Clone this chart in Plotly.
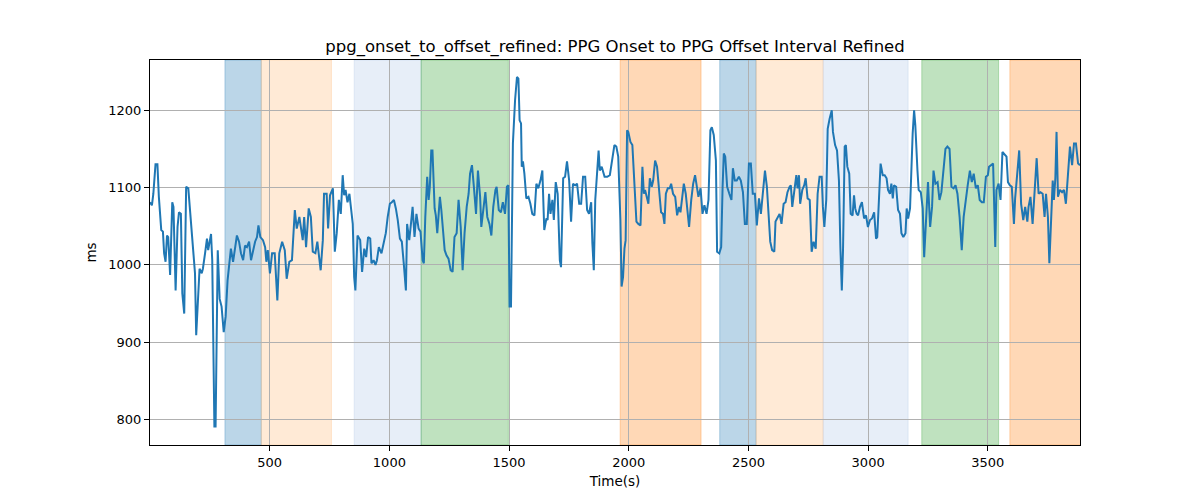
import plotly.graph_objects as go

time_s = [
    0, 8, 14, 23, 31, 37, 47, 54, 59, 65, 71, 76, 84, 93, 98, 107, 115, 121, 129, 135, 143, 151, 160, 165, 172,
    179, 188, 193, 202, 207, 216, 221, 230, 238, 243, 249, 255, 260, 269, 274, 283, 291, 299, 308, 316, 324,
    333, 338, 347, 355, 363, 372, 380, 389, 397, 405, 414, 422, 430, 439, 447, 453, 461, 472, 481, 486, 492,
    501, 510, 521, 532, 540, 552, 563, 571, 582, 593, 605, 613, 624, 638, 644, 652, 663, 672, 680, 691, 699,
    708, 713, 722, 727, 738, 744, 752, 764, 772, 780, 789, 797, 805, 811, 817, 825, 833, 839, 847, 853, 858,
    867, 878, 886, 895, 903, 911, 920, 925, 934, 942, 948, 956, 967, 976,
    985, 993, 1002, 1010, 1019, 1027, 1035, 1044, 1052, 1060, 1069, 1074, 1083, 1091, 1097, 1105, 1113, 1122,
    1130, 1139, 1144, 1150, 1158, 1164, 1169, 1175, 1180, 1189, 1194, 1200, 1206, 1211, 1217, 1225, 1231,
    1239, 1247, 1256, 1264, 1272, 1281, 1289, 1298, 1306, 1314, 1323, 1331, 1337, 1345, 1353, 1362, 1370,
    1379, 1384, 1392, 1401, 1409, 1418, 1426, 1434, 1443, 1448, 1457,
    1466, 1474, 1483, 1491, 1497, 1502, 1508, 1516, 1525, 1533, 1539, 1544, 1550, 1553, 1558, 1564, 1572,
    1581, 1589, 1597, 1606, 1614, 1622, 1631, 1639, 1647, 1656, 1661, 1667, 1673, 1681, 1687, 1695, 1703,
    1712, 1717, 1726, 1734, 1742, 1751, 1759, 1767, 1776, 1784, 1793, 1801, 1809, 1818, 1826, 1834, 1843,
    1848, 1854, 1860, 1868, 1874, 1879, 1887, 1899, 1910, 1921, 1929,
    1940, 1948, 1956, 1965, 1970, 1976, 1982, 1987, 1993, 1998, 2007, 2015, 2023, 2032, 2040, 2049, 2057,
    2063, 2068, 2074, 2082, 2088, 2096, 2102, 2110, 2118, 2127, 2135, 2143, 2149, 2155, 2163, 2171, 2177,
    2185, 2194, 2202, 2210, 2216, 2224, 2230, 2238, 2247, 2252, 2261, 2269, 2277, 2286, 2291, 2300, 2308,
    2316, 2325, 2333, 2341, 2347, 2355, 2364, 2369, 2378, 2386, 2392, 2397, 2403, 2411, 2420,
    2429, 2435, 2443, 2451, 2460, 2468, 2477, 2485, 2493, 2502, 2510, 2518, 2527, 2535, 2544, 2552, 2560,
    2569, 2577, 2585, 2591, 2599, 2608, 2613, 2622, 2630, 2638, 2647, 2655, 2663, 2672, 2677, 2683, 2691,
    2700, 2705, 2711, 2716, 2725, 2733, 2739, 2747, 2756, 2764, 2772, 2781, 2789, 2797, 2806, 2811, 2817,
    2825, 2831, 2839, 2848, 2853, 2862, 2870, 2878, 2884, 2890, 2895,
    2902, 2907, 2913, 2921, 2927, 2935, 2941, 2946, 2952, 2958, 2966, 2974, 2983, 2991, 2999, 3008, 3016,
    3025, 3033, 3038, 3047, 3052, 3061, 3069, 3077, 3083, 3091, 3097, 3103, 3108, 3117, 3125, 3133, 3139,
    3147, 3156, 3161, 3167, 3175, 3181, 3186, 3192, 3197, 3206, 3211, 3220, 3228, 3234, 3242, 3250, 3259,
    3267, 3273, 3281, 3290, 3298, 3306, 3315, 3323, 3331, 3340, 3348, 3357, 3365, 3373, 3382,
    3391, 3399, 3408, 3416, 3425, 3433, 3441, 3450, 3458, 3466, 3475, 3483, 3492, 3500, 3505, 3514, 3522,
    3531, 3536, 3545, 3553, 3561, 3570, 3578, 3584, 3592, 3600, 3609, 3614, 3623, 3631, 3639, 3648, 3656,
    3665, 3670, 3678, 3687, 3695, 3704, 3712, 3720, 3729, 3737, 3743, 3751, 3757, 3765, 3771, 3776, 3782,
    3787, 3793, 3801, 3810, 3818, 3826, 3835, 3843, 3852, 3860, 3868, 3877, 3885,
]

interval_ms = [
    1081, 1077, 1092, 1130, 1130, 1088, 1045, 1043, 1015, 1004, 1038, 1036, 987, 1081, 1075, 967, 1049, 1068, 1066, 963, 937, 1101, 1099, 1079, 1049,
    1021, 989, 909, 967, 995, 989, 995, 1015, 1034, 1019, 1030, 1040, 1006, 791, 791, 1019, 956, 946, 913, 933, 980,
    1004, 1021, 1004, 1019, 1038, 1030, 1015, 1006, 1025, 1023, 1030, 1006, 1017, 1030, 1036, 1051, 1036, 1032, 1023, 1004, 1019,
    989, 1015, 1015, 954, 1015, 1030, 1019, 982, 1004, 1006, 1071, 1047, 1062, 1032, 1062, 1023, 1073, 1062, 1017, 1015, 1030,
    1006, 993, 1032, 1092, 1092, 1047, 1090, 1099, 1017, 1041, 1084, 1066, 1116, 1090, 1097, 1081, 1092, 1075, 1053, 984, 967,
    1038, 1032, 991, 1021, 1010, 1036, 1034, 1002, 1006, 1000, 1006, 1023, 1015, 1030,
    1041, 1062, 1079, 1081, 1084, 1073, 1058, 1034, 1030, 1002, 967, 1053, 1032, 1056, 1075, 1036, 1066, 1047,
    1043, 1006, 1002, 1062, 1114, 1084, 1101, 1148, 1148, 1073, 1064, 1041, 1068, 1088, 1071, 1041, 1019,
    1012, 1008, 993, 991, 1036, 1041, 1084, 1049, 993, 1041, 1075, 1092, 1118, 1129, 1101, 1066, 1122,
    1088, 1049, 1073, 1094, 1062, 1053, 1038, 1075, 1097, 1101, 1071,
    1068, 1081, 1066, 1101, 1103, 946, 946, 1157, 1213, 1243, 1241, 1187, 1183, 1127, 1134, 1118, 1086,
    1088, 1079, 1066, 1064, 1105, 1099, 1109, 1122, 1045, 1060, 1058, 1092, 1066, 1084, 1058, 1107, 1092,
    1006, 997, 1112, 1114, 1134, 1109, 1056, 1105, 1103, 1105, 1079, 1079, 1114, 1114, 1071, 1066, 1081,
    1028, 993, 1084, 1129, 1148, 1122, 1127, 1114, 1114, 1116, 1135,
    1155, 1153, 1140, 1058, 972, 984, 1021, 1032, 1174, 1172, 1159, 1155, 1101, 1056, 1053, 1051, 1127,
    1092, 1097, 1090, 1079, 1112, 1101, 1109, 1135, 1127, 1099, 1068, 1066, 1053, 1092, 1099, 1099, 1105,
    1092, 1088, 1064, 1075, 1068, 1088, 1105, 1092, 1066, 1049, 1084, 1105, 1116, 1099, 1088, 1099, 1066,
    1077, 1066, 1084, 1174, 1178, 1168, 1135, 1017, 1015, 1023, 1101, 1144, 1140, 1101, 1092,
    1084, 1125, 1109, 1109, 1114, 1109, 1094, 1053, 1053, 1131, 1131, 1092, 1092, 1051, 1086, 1066, 1092,
    1122, 1101, 1066, 1030, 1019, 1017, 1056, 1062, 1066, 1053, 1079, 1081, 1094, 1101, 1103, 1075, 1092,
    1116, 1099, 1116, 1079, 1097, 1103, 1112, 1086, 1084, 1017, 1030, 1021, 1092, 1114, 1114, 1075, 1049,
    1084, 1176, 1189, 1200, 1172, 1155, 1148, 1109, 1023, 967, 1019,
    1153, 1155, 1127, 1118, 1066, 1064, 1090, 1073, 1066, 1064, 1075, 1081, 1060, 1064, 1049, 1058, 1060,
    1068, 1034, 1036, 1103, 1131, 1116, 1116, 1112, 1097, 1092, 1105, 1086, 1103, 1101, 1071, 1066, 1041,
    1036, 1041, 1073, 1060, 1073, 1135, 1170, 1200, 1181, 1122, 1097, 1094, 1073, 1010, 1053, 1107, 1049,
    1075, 1122, 1105, 1107, 1084, 1094, 1122, 1150, 1153, 1150, 1101, 1099, 1103, 1092, 1062,
    1019, 1062, 1088, 1103, 1122, 1107, 1118, 1099, 1103, 1084, 1081, 1081, 1114, 1116, 1127, 1129, 1131,
    1023, 1097, 1105, 1084, 1146, 1142, 1140, 1107, 1103, 1101, 1053, 1086, 1122, 1148, 1079, 1058, 1075,
    1056, 1075, 1088, 1053, 1088, 1138, 1092, 1094, 1092, 1062, 1092, 1062, 1002, 1071, 1109, 1084, 1112,
    1172, 1088, 1097, 1094, 1097, 1079, 1118, 1153, 1129, 1157, 1157, 1131, 1129,
]

span_start = [313, 465, 853, 1132, 1964, 2380, 2532, 2812, 3224, 3592]
span_end = [465, 758, 1134, 1497, 2302, 2532, 2812, 3167, 3545, 3890]
span_color = [
    "rgba(31,119,180,0.3)", "rgba(255,187,120,0.3)", "rgba(174,199,232,0.3)", "rgba(44,160,44,0.3)",
    "rgba(255,127,14,0.3)", "rgba(31,119,180,0.3)", "rgba(255,187,120,0.3)", "rgba(174,199,232,0.3)",
    "rgba(44,160,44,0.3)", "rgba(255,127,14,0.3)",
]

x_ticks = [500, 1000, 1500, 2000, 2500, 3000, 3500]
y_ticks = [800, 900, 1000, 1100, 1200]

fig = go.Figure()
fig.add_trace(go.Scatter(
    x=time_s, y=interval_ms, mode="lines",
    line=dict(color="#1f77b4", width=2),
    showlegend=False,
))

for s, e, c in zip(span_start, span_end, span_color):
    fig.add_shape(type="rect", xref="x", yref="paper", x0=s, x1=e, y0=0, y1=1,
                  fillcolor=c, line=dict(width=1, color=c), layer="below")

font_family = "DejaVu Sans"
fig.update_layout(
    width=1200, height=500,
    margin=dict(l=142, r=128, t=52, b=63),
    paper_bgcolor="white", plot_bgcolor="white",
    font=dict(family=font_family, size=13, color="black"),
    title=dict(text="ppg_onset_to_offset_refined: PPG Onset to PPG Offset Interval Refined",
               xref="paper", x=0.5, xanchor="center", y=0.924, yanchor="middle",
               font=dict(size=16.5, family=font_family, color="black")),
)
fig.update_xaxes(
    range=[0, 3885], tickvals=x_ticks, ticks="outside", ticklen=5, tickcolor="black",
    showgrid=True, gridcolor="#b0b0b0", gridwidth=1, zeroline=False,
    showline=True, linecolor="black", linewidth=1, mirror=True,
    title=dict(text="Time(s)", font=dict(size=13.5), standoff=7),
    tickfont=dict(size=13),
)
fig.update_yaxes(
    range=[767, 1265], tickvals=y_ticks, ticks="outside", ticklen=5, tickcolor="black",
    showgrid=True, gridcolor="#b0b0b0", gridwidth=1, zeroline=False,
    showline=True, linecolor="black", linewidth=1, mirror=True,
    title=dict(text="ms", font=dict(size=13.5), standoff=8),
    tickfont=dict(size=13),
)

fig.write_html("out.html")
